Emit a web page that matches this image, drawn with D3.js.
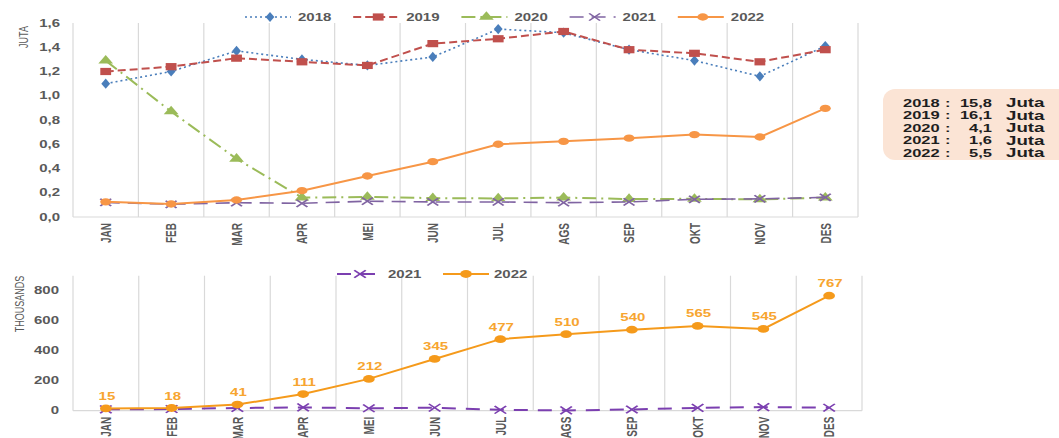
<!DOCTYPE html>
<html><head><meta charset="utf-8">
<script src="https://cdn.jsdelivr.net/npm/d3@7"></script>
<style>
html,body{margin:0;padding:0;background:#fff;}
svg{display:block;font-family:"Liberation Sans",Arial,sans-serif;}
</style></head>
<body>
<svg id="c" width="1059" height="438"></svg>
<script>
// ---------- DATA ----------
const months = ["JAN","FEB","MAR","APR","MEI","JUN","JUL","AGS","SEP","OKT","NOV","DES"];
const years = ["2018","2019","2020","2021","2022"];
const s2018 = [1.10,1.20,1.37,1.30,1.25,1.32,1.55,1.52,1.38,1.29,1.16,1.41];
const s2019 = [1.20,1.24,1.31,1.28,1.25,1.43,1.47,1.53,1.38,1.35,1.28,1.38];
const s2020 = [1.29,0.87,0.48,0.16,0.165,0.156,0.153,0.16,0.148,0.15,0.145,0.16];
const s2021 = [0.12,0.105,0.118,0.113,0.13,0.124,0.124,0.118,0.124,0.146,0.15,0.162];
const s2022 = [0.125,0.107,0.14,0.217,0.338,0.456,0.60,0.624,0.65,0.68,0.66,0.896];
const topTicks = [0,0.2,0.4,0.6,0.8,1.0,1.2,1.4,1.6];
const b2021 = [9,11,18,22,16,20,6,2,8,19,24,20];
const b2022 = [15,18,41,111,212,345,477,510,540,565,545,767];
const bottomTicks = [0,200,400,600,800];
const summaryYears = ["2018","2019","2020","2021","2022"];
const summaryValues = ["15,8","16,1","4,1","1,6","5,5"];
const summaryUnit = "Juta";

// ---------- SETUP ----------
const SX = 1.5; // horizontal stretch of the reference
const svg = d3.select("#c");
const grey = "#595959", gridC = "#d9d9d9";

const styles = {
  "2018": {color:"#4a7ebb", dash:"2,3", w:1.6, sym:d3.symbolDiamond, size:30, fill:true},
  "2019": {color:"#c0504d", dash:"8,4", w:2, sym:d3.symbolSquare, size:52, fill:true},
  "2020": {color:"#9bbb59", dash:"14,5,2,5", w:2, sym:d3.symbolTriangle, size:42, fill:true},
  "2021": {color:"#8064a2", dash:"14,8", w:1.6, sym:d3.symbolX, size:36, fill:false},
  "2022": {color:"#f79646", dash:null, w:2, sym:d3.symbolCircle, size:42, fill:true}
};
const topSeries = {"2018":s2018,"2019":s2019,"2020":s2020,"2021":s2021,"2022":s2022};

function marker(g, st, x, y){
  const p = g.append("path")
    .attr("d", d3.symbol().type(st.sym).size(st.size)())
    .attr("transform", `translate(${x},${y}) scale(${SX},1)`);
  if (st.fill) p.attr("fill", st.color).attr("stroke","none");
  else p.attr("fill","none").attr("stroke", st.color).attr("stroke-width",1.4);
}
function stext(g, x, y, txt, opts){
  opts = opts || {};
  const t = g.append("text")
    .attr("transform", `translate(${x},${y}) scale(${SX},1)` + (opts.rot ? " rotate(-90)" : ""))
    .attr("text-anchor", opts.anchor || "start")
    .attr("dy", opts.dy || "0.35em")
    .attr("font-size", opts.size || 10)
    .attr("font-weight", opts.weight || "bold")
    .attr("fill", opts.fill || grey)
    .text(txt);
  if (opts.family) t.attr("font-family", opts.family);
  return t;
}

// ---------- TOP CHART ----------
const xT = d3.scaleBand().domain(months).range([73, 858]);
const yT = d3.scaleLinear().domain([0, 1.6]).range([217, 23]);
const topG = svg.append("g");

const bounds = months.map(m => xT(m)).concat([xT.range()[1]]);
topG.selectAll(".vg").data(bounds).enter().append("line")
  .attr("x1", d => d).attr("x2", d => d).attr("y1", yT(1.6)).attr("y2", yT(0))
  .attr("stroke", gridC).attr("stroke-width", 1.2);
topG.append("line").attr("x1", 73).attr("x2", 858).attr("y1", yT(0)).attr("y2", yT(0))
  .attr("stroke", gridC).attr("stroke-width", 1.2);

const yAxT = topG.append("g").attr("transform", "translate(73,0)")
  .call(d3.axisLeft(yT).tickValues(topTicks).tickSize(0)
    .tickFormat(d => d3.format(".1f")(d).replace(".", ",")));
yAxT.select(".domain").remove();
yAxT.selectAll("text").attr("x", -13 / SX).attr("transform", `scale(${SX},1)`)
  .attr("font-size", 10).attr("font-weight", "bold").attr("fill", grey)
  .attr("font-family", "Liberation Sans, Arial, sans-serif");

const xAxT = topG.append("g").attr("transform", `translate(0,${yT(0)})`)
  .call(d3.axisBottom(xT).tickSize(0));
xAxT.select(".domain").remove();
xAxT.selectAll("text").attr("y", null).attr("dy", "0.35em")
  .attr("transform", `translate(0,6) scale(${SX},1) rotate(-90)`)
  .attr("text-anchor", "end").attr("font-size", 10).attr("font-weight", "bold")
  .attr("fill", grey).attr("font-family", "Liberation Sans, Arial, sans-serif");

stext(topG, 23, 37, "JUTA", {rot:true, anchor:"middle", weight:"normal", size:9});

years.forEach(yr => {
  const st = styles[yr], vals = topSeries[yr];
  const line = d3.line().x((d, i) => xT(months[i]) + xT.bandwidth() / 2).y(d => yT(d));
  topG.append("path").datum(vals).attr("d", line).attr("fill", "none")
    .attr("stroke", st.color).attr("stroke-width", st.w)
    .attr("stroke-dasharray", st.dash);
  vals.forEach((v, i) => marker(topG, st, xT(months[i]) + xT.bandwidth() / 2, yT(v)));
});

years.forEach((yr, i) => {
  const st = styles[yr];
  const x0 = 245 + i * 108.2, y0 = 17;
  topG.append("line").attr("x1", x0).attr("x2", x0 + 46).attr("y1", y0).attr("y2", y0)
    .attr("stroke", st.color).attr("stroke-width", st.w).attr("stroke-dasharray", st.dash);
  marker(topG, st, x0 + 25, y0);
  stext(topG, x0 + 53, y0, yr, {size:10});
});

// summary box
const box = svg.append("g");
box.append("rect").attr("x", 883).attr("y", 89).attr("width", 190).attr("height", 71)
  .attr("rx", 12).attr("fill", "#fbe4d5");
summaryYears.forEach((yr, i) => {
  const y = 103 + i * 12.5;
  const o = {size:11, fill:"#1e1e1e", family:"Liberation Sans, Arial, sans-serif"};
  stext(box, 903, y, yr, o);
  stext(box, 945, y, ":", o);
  stext(box, 992, y, summaryValues[i], Object.assign({anchor:"end"}, o));
  stext(box, 1006, y, summaryUnit, Object.assign({}, o, {size:12.5}));
});

// ---------- BOTTOM CHART ----------
const xB = d3.scaleBand().domain(months).range([73, 862]);
const yB = d3.scaleLinear().domain([0, 900]).range([410.7, 275.7]);
const bot = svg.append("g");
const boundsB = months.map(m => xB(m)).concat([xB.range()[1]]);
bot.selectAll(".vg").data(boundsB).enter().append("line")
  .attr("x1", d => d).attr("x2", d => d).attr("y1", yB(900)).attr("y2", yB(0))
  .attr("stroke", gridC).attr("stroke-width", 1.2);
bot.append("line").attr("x1", 73).attr("x2", 862).attr("y1", yB(0)).attr("y2", yB(0))
  .attr("stroke", gridC).attr("stroke-width", 1.2);

const yAxB = bot.append("g").attr("transform", "translate(73,0)")
  .call(d3.axisLeft(yB).tickValues(bottomTicks).tickSize(0));
yAxB.select(".domain").remove();
yAxB.selectAll("text").attr("x", -14 / SX).attr("transform", `scale(${SX},1)`)
  .attr("font-size", 10).attr("font-weight", "bold").attr("fill", grey)
  .attr("font-family", "Liberation Sans, Arial, sans-serif");

const xAxB = bot.append("g").attr("transform", `translate(0,${yB(0)})`)
  .call(d3.axisBottom(xB).tickSize(0));
xAxB.select(".domain").remove();
xAxB.selectAll("text").attr("y", null).attr("dy", "0.35em")
  .attr("transform", `translate(0,6) scale(${SX},1) rotate(-90)`)
  .attr("text-anchor", "end").attr("font-size", 10).attr("font-weight", "bold")
  .attr("fill", grey).attr("font-family", "Liberation Sans, Arial, sans-serif");

stext(bot, 19, 304, "THOUSANDS", {rot:true, anchor:"middle", weight:"normal", size:9});

const bStyles = {
  "2021": {color:"#7b3fb0", dash:"14,10", w:2, sym:d3.symbolX, size:40, fill:false},
  "2022": {color:"#f59a1b", dash:null, w:2, sym:d3.symbolCircle, size:48, fill:true}
};
const bSeries = {"2021":b2021, "2022":b2022};
["2021","2022"].forEach(yr => {
  const st = bStyles[yr], vals = bSeries[yr];
  const line = d3.line().x((d, i) => xB(months[i]) + xB.bandwidth() / 2).y(d => yB(d));
  bot.append("path").datum(vals).attr("d", line).attr("fill", "none")
    .attr("stroke", st.color).attr("stroke-width", st.w).attr("stroke-dasharray", st.dash);
  vals.forEach((v, i) => marker(bot, st, xB(months[i]) + xB.bandwidth() / 2, yB(v)));
});
b2022.forEach((v, i) => {
  stext(bot, xB(months[i]) + xB.bandwidth() / 2 + 1, yB(v) - 12, String(v),
    {anchor:"middle", size:10, fill:"#f7a530"});
});

["2021","2022"].forEach((yr, i) => {
  const st = bStyles[yr];
  const x0 = 337 + i * 106, y0 = 274;
  bot.append("line").attr("x1", x0).attr("x2", x0 + 46).attr("y1", y0).attr("y2", y0)
    .attr("stroke", st.color).attr("stroke-width", st.w).attr("stroke-dasharray", st.dash);
  marker(bot, st, x0 + 23, y0);
  stext(bot, x0 + 51, y0, yr, {size:10});
});
</script>
</body></html>
